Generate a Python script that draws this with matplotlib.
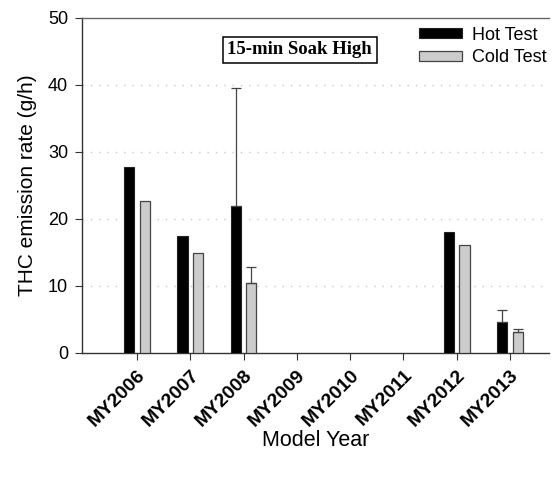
import matplotlib
matplotlib.use("Agg")
import matplotlib.pyplot as plt
import numpy as np

plt.rcParams['font.family'] = ['Liberation Sans', 'DejaVu Sans']

categories = ["MY2006", "MY2007", "MY2008", "MY2009", "MY2010", "MY2011", "MY2012", "MY2013"]
hot = [27.8, 17.4, 21.9, np.nan, np.nan, np.nan, 18.1, 4.55]
cold = [22.7, 14.9, 10.4, np.nan, np.nan, np.nan, 16.05, 3.1]
hot_err = [0, 0, 17.7, np.nan, np.nan, np.nan, 0, 1.9]
cold_err = [0, 0, 2.4, np.nan, np.nan, np.nan, 0, 0.4]
yticks = [0, 10, 20, 30, 40, 50]

fig = plt.figure(figsize=(5.6, 4.79), dpi=100)
ax = fig.add_axes([82/560, 1-352.7/479, (549-82)/560, (352.7-18)/479])

x = np.arange(len(categories))
w = 0.193
off = 0.146
ax.bar(x - off, hot, w, color='black', edgecolor='#222222', linewidth=0.8,
       label='Hot Test', zorder=3)
ax.bar(x + off, cold, w, color='#cccccc', edgecolor='#444444', linewidth=0.9,
       label='Cold Test', zorder=3)

def upper_err(xs, vals, errs):
    for xi, v, e in zip(xs, vals, errs):
        if np.isfinite(v) and e > 0:
            ax.errorbar([xi], [v], yerr=[[0], [e]], fmt='none', ecolor='#444444',
                        elinewidth=0.9, capsize=3.5, capthick=0.9, zorder=4)

upper_err(x - off, hot, hot_err)
upper_err(x + off, cold, cold_err)

ax.set_xlim(-1.03, 7.73)
ax.set_ylim(0, 50)
ax.set_yticks(yticks)
ax.set_yticklabels([str(t) for t in yticks], fontsize=13)
ax.set_xticks(x)
ax.set_xticklabels(categories, rotation=45, ha='right', va='top', rotation_mode='anchor',
                   fontsize=14, fontweight='bold')
ax.tick_params(axis='both', direction='out', length=5, width=0.8, color='#333333')
ax.tick_params(axis='x', pad=5)
ax.tick_params(axis='y', pad=5)

for t in [10, 20, 30, 40]:
    ax.axhline(t, color='#c8c8c8', linestyle=(0, (1, 5)), linewidth=1.0, zorder=1)

ax.spines['right'].set_visible(False)
for s in ['left', 'bottom', 'top']:
    ax.spines[s].set_color('#333333')
    ax.spines[s].set_linewidth(1.0)
ax.spines['top'].set_color('#666666')

ax.set_ylabel('THC emission rate (g/h)', fontsize=15, labelpad=8)
ax.set_xlabel('Model Year', fontsize=15.5, labelpad=0)

ax.text(0.466, 0.905, '15-min Soak High', transform=ax.transAxes,
        fontsize=13.5, fontweight='bold', family='Liberation Serif',
        ha='center', va='center',
        bbox=dict(boxstyle='square,pad=0.25', facecolor='white', edgecolor='black', linewidth=1.1))

leg = ax.legend(loc='upper left', bbox_to_anchor=(0.71, 0.99), frameon=False,
                fontsize=13, handlelength=2.4, handleheight=0.5, handletextpad=0.55,
                labelspacing=0.3, borderaxespad=0.0, borderpad=0.3)

fig.savefig('out.png', dpi=100)
